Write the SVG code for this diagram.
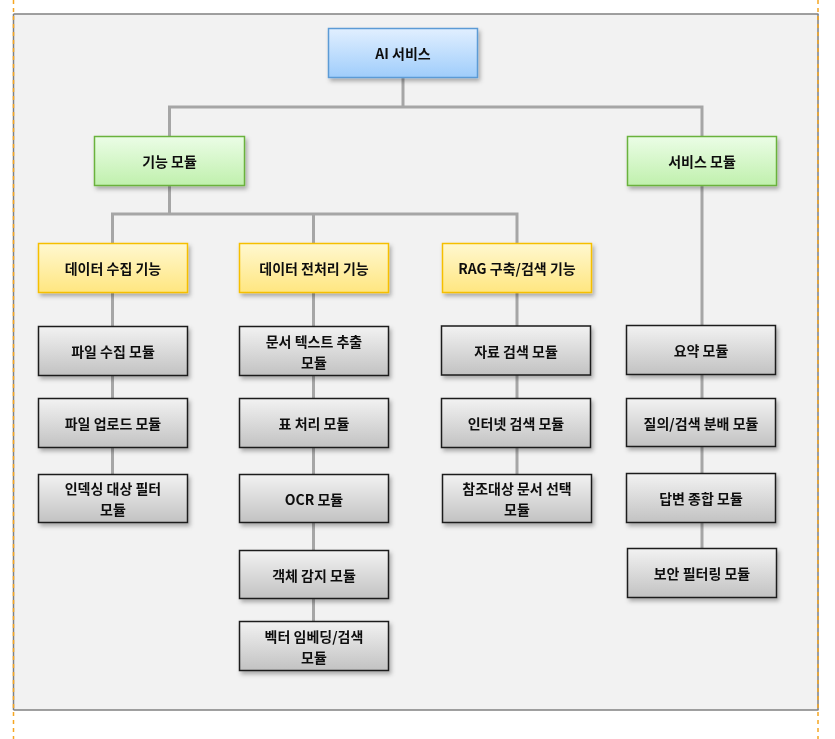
<svg xmlns="http://www.w3.org/2000/svg" width="835" height="739" viewBox="0 0 835 739">
<defs>
<linearGradient id="gBlue" x1="0" y1="0" x2="0" y2="1"><stop offset="0" stop-color="#e1efff"/><stop offset="1" stop-color="#9fcdfb"/></linearGradient>
<linearGradient id="gGreen" x1="0" y1="0" x2="0" y2="1"><stop offset="0" stop-color="#ebfde6"/><stop offset="1" stop-color="#c0f0ad"/></linearGradient>
<linearGradient id="gYellow" x1="0" y1="0" x2="0" y2="1"><stop offset="0" stop-color="#fff8d0"/><stop offset="1" stop-color="#ffe680"/></linearGradient>
<linearGradient id="gGray" x1="0" y1="0" x2="0" y2="1"><stop offset="0" stop-color="#f2f2f2"/><stop offset="1" stop-color="#c2c2c2"/></linearGradient>
<filter id="sh" x="-10%" y="-10%" width="130%" height="140%"><feDropShadow dx="2" dy="3" stdDeviation="2" flood-color="#000" flood-opacity="0.3"/></filter>
</defs>
<style>
.blue{fill:url(#gBlue);stroke:#5b9bd5;stroke-width:1.5}
.green{fill:url(#gGreen);stroke:#6ab23e;stroke-width:1.5}
.yellow{fill:url(#gYellow);stroke:#f5bf00;stroke-width:1.5}
.gray{fill:url(#gGray);stroke:#1a1a1a;stroke-width:1.5}
.box{filter:url(#sh)}
text{font-family:"Noto Sans CJK KR","Noto Sans",sans-serif;font-size:14px;font-weight:bold;fill:#111;text-anchor:middle;dominant-baseline:central}
.conn{fill:none;stroke:#a6a6a6;stroke-width:3}
</style>
<rect x="13.5" y="14" width="805" height="696" fill="#f2f2f2"/>
<line x1="13.5" y1="14" x2="818.5" y2="14" stroke="#808080" stroke-width="1.5"/>
<line x1="13.5" y1="710" x2="818.5" y2="710" stroke="#808080" stroke-width="1.5"/>
<line x1="13.5" y1="14" x2="13.5" y2="710" stroke="#808080" stroke-width="1.5"/>
<line x1="818" y1="14" x2="818" y2="710" stroke="#808080" stroke-width="1.5"/>
<line x1="13.5" y1="0" x2="13.5" y2="739" stroke="#f5a623" stroke-width="1.5" stroke-dasharray="4,4"/>
<line x1="818" y1="0" x2="818" y2="739" stroke="#f5a623" stroke-width="1.5" stroke-dasharray="4,4"/>
<g id="connectors">
<path class="conn" d="M403 77V107M169.5 136V107H702V136"/>
<path class="conn" d="M169.5 185V214M112.5 243V214H517V243M313.5 214V243"/>
<path class="conn" d="M112.5 292V474"/>
<path class="conn" d="M313.5 292V621"/>
<path class="conn" d="M517 292V474"/>
<path class="conn" d="M702 185V548"/>
</g>
<g id="n-ai" class="box"><rect class="blue" x="328.5" y="28.5" width="149" height="49"/><text x="403" y="53">AI 서비스</text></g>
<g id="n-func" class="box"><rect class="green" x="94.5" y="136.5" width="150" height="49"/><text x="169.5" y="161">기능 모듈</text></g>
<g id="n-svc" class="box"><rect class="green" x="627.5" y="136.5" width="149" height="49"/><text x="702" y="161">서비스 모듈</text></g>
<g id="n-collect" class="box"><rect class="yellow" x="38.5" y="243.5" width="149" height="49"/><text x="113" y="268">데이터 수집 기능</text></g>
<g id="n-prep" class="box"><rect class="yellow" x="239.5" y="243.5" width="149" height="49"/><text x="314" y="268">데이터 전처리 기능</text></g>
<g id="n-rag" class="box"><rect class="yellow" x="442.5" y="243.5" width="149" height="49"/><text x="517" y="268">RAG 구축/검색 기능</text></g>
<g id="n-c1" class="box"><rect class="gray" x="38.5" y="326.5" width="149" height="49"/><text x="113" y="351">파일 수집 모듈</text></g>
<g id="n-c2" class="box"><rect class="gray" x="38.5" y="398.5" width="149" height="49"/><text x="113" y="423">파일 업로드 모듈</text></g>
<g id="n-c3" class="box"><rect class="gray" x="38.5" y="474.5" width="149" height="48"/><text x="113" y="488">인덱싱 대상 필터</text><text x="113" y="509">모듈</text></g>
<g id="n-p1" class="box"><rect class="gray" x="239.5" y="326.5" width="149" height="49"/><text x="314" y="340.5">문서 텍스트 추출</text><text x="314" y="361.5">모듈</text></g>
<g id="n-p2" class="box"><rect class="gray" x="239.5" y="398.5" width="149" height="49"/><text x="314" y="423">표 처리 모듈</text></g>
<g id="n-p3" class="box"><rect class="gray" x="239.5" y="474.5" width="149" height="48"/><text x="314" y="498.5">OCR 모듈</text></g>
<g id="n-p4" class="box"><rect class="gray" x="239.5" y="550.5" width="149" height="48"/><text x="314" y="574.5">객체 감지 모듈</text></g>
<g id="n-p5" class="box"><rect class="gray" x="239.5" y="621.5" width="149" height="49"/><text x="314" y="635.5">벡터 임베딩/검색</text><text x="314" y="656.5">모듈</text></g>
<g id="n-r1" class="box"><rect class="gray" x="441.5" y="326" width="149" height="49"/><text x="516" y="350.5">자료 검색 모듈</text></g>
<g id="n-r2" class="box"><rect class="gray" x="441.5" y="398.5" width="149" height="49"/><text x="516" y="423">인터넷 검색 모듈</text></g>
<g id="n-r3" class="box"><rect class="gray" x="442.5" y="474.5" width="149" height="48"/><text x="517" y="488">참조대상 문서 선택</text><text x="517" y="509">모듈</text></g>
<g id="n-s1" class="box"><rect class="gray" x="626.5" y="325.5" width="149" height="49"/><text x="701" y="350">요약 모듈</text></g>
<g id="n-s2" class="box"><rect class="gray" x="626.5" y="398.5" width="149" height="48"/><text x="701" y="422.5">질의/검색 분배 모듈</text></g>
<g id="n-s3" class="box"><rect class="gray" x="626.5" y="473.5" width="149" height="49"/><text x="701" y="498">답변 종합 모듈</text></g>
<g id="n-s4" class="box"><rect class="gray" x="627.5" y="548.5" width="149" height="49"/><text x="702" y="573">보안 필터링 모듈</text></g>
</svg>
